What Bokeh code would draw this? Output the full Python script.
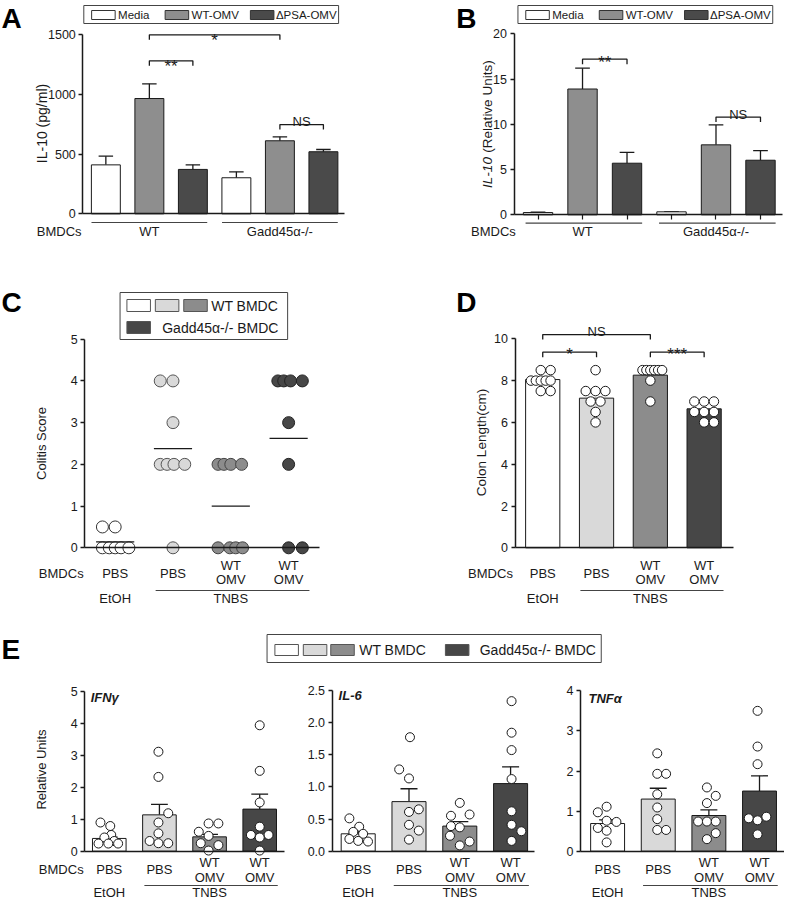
from bokeh.plotting import figure
from bokeh.models import Range1d, LinearAxis, FixedTicker, NumeralTickFormatter
from bokeh.layouts import row, column
from bokeh.embed import file_html
from bokeh.resources import INLINE
from bokeh.core.properties import value

# ------------------------------------------------------------------ data
TREATMENTS = ["Media", "WT-OMV", "ΔPSA-OMV"]
BMDC_TYPES = ["WT", "Gadd45α-/-"]
A_IL10_PG = [410, 966, 372, 302, 612, 520]
A_IL10_SEM = [73, 123, 38, 50, 33, 19]
A_TICKS = [0, 500, 1000, 1500]
B_IL10_RU = [0.25, 13.9, 5.7, 0.33, 7.73, 6.03]
B_IL10_SEM = [0.05, 2.3, 1.2, 0.03, 2.2, 1.07]
B_TICKS = [0, 5, 10, 15, 20]

CONDITIONS = ["PBS", "PBS", "WT OMV", "WT OMV"]
TREAT_GROUPS = ["EtOH", "TNBS"]
LEGEND_CE = ["WT BMDC", "Gadd45α-/- BMDC"]

C_SCORES = [
    [0.5, 0.5, 0, 0, 0, 0, 0],
    [4, 4, 3, 2, 2, 2, 2, 0],
    [2, 2, 2, 2, 0, 0, 0, 0],
    [4, 4, 4, 4, 3, 2, 0, 0],
]
C_TICKS = [0, 1, 2, 3, 4, 5]

D_LENGTH_MEAN = [8.05, 7.16, 8.26, 6.65]
D_LENGTHS = [
    [8.5, 8.5, 8.0, 8.0, 8.0, 8.0, 8.0, 7.5, 7.5],
    [8.5, 7.5, 7.5, 7.5, 7.0, 7.0, 6.5, 6.0],
    [8.5, 8.5, 8.5, 8.5, 8.5, 8.5, 8.0, 7.0],
    [7.0, 7.0, 7.0, 6.5, 6.5, 6.5, 6.0, 6.0],
]
D_TICKS = [0, 2, 4, 6, 8, 10]

E_GENES = ["IFNγ", "IL-6", "TNFα"]
E_IFNG_MEAN = [0.40, 1.14, 0.45, 1.32]
E_IFNG_SEM = [0.04, 0.33, 0.08, 0.47]
E_IFNG_PTS = [
    [0.90, 0.79, 0.51, 0.43, 0.32, 0.24, 0.24, 0.24],
    [3.12, 2.33, 1.19, 0.90, 0.56, 0.32, 0.25, 0.25],
    [0.87, 0.87, 0.61, 0.48, 0.25, 0.19, 0.02],
    [3.95, 2.52, 1.53, 0.77, 0.51, 0.51, 0.43, 0.02],
]
E_IFNG_TICKS = [0, 1, 2, 3, 4, 5]
E_IL6_MEAN = [0.27, 0.77, 0.39, 1.05]
E_IL6_SEM = [0.03, 0.20, 0.07, 0.26]
E_IL6_PTS = [
    [0.51, 0.38, 0.30, 0.27, 0.19, 0.16, 0.15],
    [1.77, 1.27, 1.13, 0.65, 0.61, 0.41, 0.32, 0.18],
    [0.75, 0.57, 0.55, 0.39, 0.37, 0.24, 0.15, 0.09],
    [2.33, 1.84, 1.57, 1.12, 0.62, 0.41, 0.31, 0.16],
]
E_IL6_TICKS = [0, 0.5, 1.0, 1.5, 2.0, 2.5]
E_TNFA_MEAN = [0.69, 1.30, 0.89, 1.50]
E_TNFA_SEM = [0.09, 0.27, 0.14, 0.38]
E_TNFA_PTS = [
    [1.11, 0.97, 0.76, 0.73, 0.58, 0.51, 0.22],
    [2.44, 1.93, 1.93, 1.42, 1.09, 0.80, 0.53, 0.53],
    [1.59, 1.38, 1.20, 0.74, 0.74, 0.74, 0.45, 0.30],
    [3.50, 2.61, 2.17, 0.86, 0.82, 0.77, 0.42],
]
E_TNFA_TICKS = [0, 1, 2, 3, 4]

# ------------------------------------------------------------ layout / style
# horizontal jitter of the dots, in pixels
C_JIT = [[-13, 0, -13, -6, 0, 6, 14], [-13, 0, 0, -13, -6, 1, 12, 0],
         [-13, -7, 0, 11, -13, -1, 5, 12], [-11, -5, 2, 14, 0, 0, 0, 14]]
D_JIT = [[-2, 8, -12, -7, -2, 3, 8, -2, 8], [-1, -11, -1, 9, -6, 4, -1, -1],
         [-8, -4, 0, 4, 8, 12, 0, 0], [-10, 0, 10, -10, 0, 10, 0, 10]]
E1_JIT = [[-9, 1, 2, -5, 5, -11, -1, 9], [-1, -1, 9, -1, -1, -10, -1, 9],
          [-1, 9, -11, -1, -9, 9, -1], [0, 0, 0, 0, -9, 9, 0, 0]]
E2_JIT = [[-9, 1, -5, 5, -9, 0, 10], [1, -10, 0, 10, 0, 0, 10, 0],
          [0, 10, -9, -9, 0, -10, 10, 0], [1, 1, 1, 1, 1, 1, 11, 1]]
E3_JIT = [[-1, -10, -1, 9, -10, -1, -1], [-1, -1, 8, -1, -1, -1, -1, 8],
          [-2, 7, -2, -11, -2, 7, 7, -2], [-2, -2, -2, 7, -11, -2, -2]]

FONT = "Liberation Sans"
INK = "#1a1a1a"
AB_FILL = ["#ffffff", "#8e8e8e", "#4a4a4a"]
CE_FILL = ["#ffffff", "#d9d9d9", "#8c8c8c", "#474747"]

KX = 784 / 800.0
# vertical reference->page mapping: empty bands between panel rows are squeezed
Y_KNOTS = [(0, 0), (240, 240), (290, 280), (615, 605), (645, 627), (917, 899)]


def PY(r):
    for (a0, b0), (a1, b1) in zip(Y_KNOTS[:-1], Y_KNOTS[1:]):
        if r <= a1 or (a1, b1) == Y_KNOTS[-1]:
            return b0 + (r - a0) * (b1 - b0) / (a1 - a0)


class Panel:
    """A figure whose frame covers a page rectangle; calibrations map data -> reference pixels."""

    def __init__(self, L, T, W, H, xcal, ycal):
        xd0, xr0, xd1, xr1 = xcal
        yd0, yr0, yd1, yr1 = ycal
        self.xd0, self.px0 = xd0, xr0 * KX
        self.sx = (xd1 - xd0) / (xr1 * KX - xr0 * KX)
        self.yd0, self.py0 = yd0, PY(yr0)
        self.sy = (yd1 - yd0) / (PY(yr1) - PY(yr0))
        xs = self.xd0 + (L - self.px0) * self.sx
        xe = self.xd0 + (L + W - self.px0) * self.sx
        ys = self.yd0 + (T + H - self.py0) * self.sy
        ye = self.yd0 + (T - self.py0) * self.sy
        self.fig = figure(width=W, height=H, x_range=Range1d(xs, xe), y_range=Range1d(ys, ye),
                          output_backend="svg", toolbar_location=None,
                          x_axis_type=None, y_axis_type=None, min_border=0,
                          outline_line_color=None)

    def X(self, r):
        return self.xd0 + (r * KX - self.px0) * self.sx

    def Y(self, r):
        return self.yd0 + (PY(r) - self.py0) * self.sy

    def DX(self, px):
        return px * KX * self.sx

    def DY(self, px):
        return -px * self.sy


def text(p, x, y, s, size="13px", align="center", baseline="middle", style="normal",
         angle=0.0, yoff=0, color=INK):
    p.text(x=[x], y=[y], text=[s], text_font=value(FONT), text_font_size=size,
           text_align=align, text_baseline=baseline, text_font_style=style,
           angle=angle, y_offset=yoff, text_color=color)


def yaxis(pn, xr, ticks, fmt=None, size="12.5px"):
    ax = LinearAxis(fixed_location=pn.X(xr), bounds=(ticks[0], ticks[-1]),
                    ticker=FixedTicker(ticks=ticks), axis_line_width=1.5, axis_line_color=INK,
                    major_tick_out=4, major_tick_in=0, major_tick_line_width=1.5,
                    major_tick_line_color=INK, minor_tick_line_color=None,
                    major_label_standoff=3, major_label_text_font=FONT,
                    major_label_text_font_size=size, major_label_text_color=INK)
    if fmt:
        ax.formatter = NumeralTickFormatter(format=fmt)
    pn.fig.add_layout(ax, "left")


def xbase(pn, x0r, x1r, ticks=None):
    ax = LinearAxis(fixed_location=0, bounds=(pn.X(x0r), pn.X(x1r)),
                    ticker=FixedTicker(ticks=ticks or []), axis_line_width=1.5,
                    axis_line_color=INK, major_tick_out=5 if ticks else 0, major_tick_in=0,
                    major_tick_line_width=1.2, major_tick_line_color=INK,
                    minor_tick_line_color=None, major_label_text_color=None)
    pn.fig.add_layout(ax, "below")


def bars(pn, means, sems, fills, width):
    xs = list(range(1, len(means) + 1))
    tops = [m + s for m, s in zip(means, sems)]
    half = width * 0.25
    pn.fig.segment(x0=xs, y0=means, x1=xs, y1=tops, line_color=INK, line_width=1.3)
    pn.fig.segment(x0=[x - half for x in xs], y0=tops, x1=[x + half for x in xs], y1=tops,
                   line_color=INK, line_width=1.3)
    pn.fig.vbar(x=xs, top=means, bottom=0, width=width, fill_color=fills,
                line_color=INK, line_width=1)


def dots(pn, groups, jit, size, fills, lines):
    for i, (vals, offs) in enumerate(zip(groups, jit)):
        xs = [i + 1 + pn.DX(o) for o in offs]
        pn.fig.scatter(x=xs, y=vals, size=size, marker="circle", fill_color=fills[i],
                       line_color=lines[i], line_width=1)


def bracket(pn, i, j, yv, label, toff, drop=5):
    d = pn.DY(drop)
    pn.fig.multi_line(xs=[[i, i, j, j]], ys=[[yv - d, yv, yv, yv - d]], line_color=INK,
                      line_width=1.3)
    size = "17px" if label.startswith("*") else "13px"
    text(pn.fig, (i + j) / 2.0, yv, label, size=size, baseline="alphabetic", yoff=toff)


def letter(pn, xr, yr, s):
    text(pn.fig, pn.X(xr), pn.Y(yr), s, size="28px", align="left", style="bold", color="#000")


def swatch(pn, l, r, t, b, fill, line="#555"):
    pn.fig.quad(left=[pn.X(l)], right=[pn.X(r)], top=[pn.Y(t)], bottom=[pn.Y(b)],
                fill_color=fill, line_color=line, line_width=1)


def ab_legend(pn, dx):
    swatch(pn, 85 + dx, 345 + dx, 5, 23, "#ffffff", "#444")
    for k, (sl, tl) in enumerate([(93, 120), (168, 195), (255, 281)]):
        swatch(pn, sl + dx, sl + 24 + dx, 10, 19, AB_FILL[k], "#333")
        text(pn.fig, pn.X(tl + dx), pn.Y(14.5), TREATMENTS[k], size="11.5px", align="left")


def cond_labels(pn, yr_single, yr_top, yr_bot, size="13px"):
    for k, lab in enumerate(CONDITIONS):
        parts = lab.split(" ")
        if len(parts) == 1:
            text(pn.fig, k + 1, pn.Y(yr_single), lab, size=size)
        else:
            text(pn.fig, k + 1, pn.Y(yr_top), parts[0], size=size)
            text(pn.fig, k + 1, pn.Y(yr_bot), parts[1], size=size)


def treat_labels(pn, yr_line, yr_text, size="13px"):
    pn.fig.segment(x0=[2 - 0.3], y0=[pn.Y(yr_line)], x1=[4 + 0.36], y1=[pn.Y(yr_line)],
                   line_color="#444", line_width=1.2)
    text(pn.fig, 1, pn.Y(yr_text), TREAT_GROUPS[0], size=size)
    text(pn.fig, 3, pn.Y(yr_text), TREAT_GROUPS[1], size=size)


# ------------------------------------------------------------------ panel A
A = Panel(0, 0, 392, 260, (1, 107.5, 6, 329.5), (0, 213.3, 1500, 34.3))
letter(A, 1, 18, "A")
ab_legend(A, 0)
yaxis(A, 84, A_TICKS)
bars(A, A_IL10_PG, A_IL10_SEM, AB_FILL * 2, 0.665)
xbase(A, 84, 351)
text(A.fig, A.X(42), A.Y(123), "IL-10 (pg/ml)", size="14px", angle=1.5708)
for g in range(2):
    A.fig.segment(x0=[3 * g + 1 - 0.33], y0=[A.Y(222)], x1=[3 * g + 3 + 0.33], y1=[A.Y(222)],
                  line_color="#444", line_width=1.2)
    text(A.fig, 3 * g + 2, A.Y(231), BMDC_TYPES[g])
text(A.fig, A.X(37), A.Y(231), "BMDCs", align="left")
bracket(A, 2, 5, 1500, "*", 6)
bracket(A, 2, 3, 1282, "**", 6)
bracket(A, 5, 6, 748, "NS", -3)

# ------------------------------------------------------------------ panel B
B = Panel(392, 0, 392, 260, (1, 548.5, 6, 775.5), (0, 214.3, 20, 33.3))
letter(B, 465, 18, "B")
ab_legend(B, 443)
yaxis(B, 524, B_TICKS)
bars(B, B_IL10_RU, B_IL10_SEM, AB_FILL * 2, 0.66)
xbase(B, 524, 798, ticks=[1, 2, 3, 4, 5, 6])
text(B.fig, B.X(497), B.Y(172), "IL-10", size="13.5px", angle=1.5708, style="italic")
text(B.fig, B.X(497), B.Y(106), "(Relative Units)", size="13.5px", angle=1.5708)
for g in range(2):
    B.fig.segment(x0=[3 * g + 1 - 0.28], y0=[B.Y(222.7)], x1=[3 * g + 3 + 0.34], y1=[B.Y(222.7)],
                  line_color="#444", line_width=1.2)
    text(B.fig, 3 * g + 2, B.Y(231), BMDC_TYPES[g])
text(B.fig, B.X(503), B.Y(231), "BMDCs")
bracket(B, 2, 3, 17.2, "**", 3)
bracket(B, 5, 6, 10.8, "NS", -3)

# ------------------------------------------------------------------ panel C
C = Panel(0, 260, 392, 356, (1, 117, 4, 294), (0, 557.3, 5, 348.7))
letter(C, 1, 312, "C")
swatch(C, 122, 293, 302, 349, "#ffffff", "#444")
for k, sl in enumerate([129, 158, 187]):
    swatch(C, sl, sl + 24, 309, 321, CE_FILL[k])
swatch(C, 129, 153, 331, 343, CE_FILL[3])
text(C.fig, C.X(215), C.Y(315), LEGEND_CE[0], size="14px", align="left")
text(C.fig, C.X(165), C.Y(337), LEGEND_CE[1], size="14px", align="left")
yaxis(C, 86, C_TICKS)
xbase(C, 86, 325)
text(C.fig, C.X(42), C.Y(453), "Colitis Score", size="13px", angle=1.5708)
dots(C, C_SCORES, C_JIT, 12, CE_FILL, ["#333", "#555", "#444", "#222"])
c_means = [sum(v) / len(v) for v in C_SCORES]
C.fig.segment(x0=[k + 1 - 0.33 for k in range(4)], y0=c_means,
              x1=[k + 1 + 0.33 for k in range(4)], y1=c_means, line_color=INK, line_width=1.2)
text(C.fig, C.X(62), C.Y(583), "BMDCs")
cond_labels(C, 583, 575, 589)
treat_labels(C, 600, 607.5)

# ------------------------------------------------------------------ panel D
D = Panel(392, 260, 392, 356, (1, 553.3, 4, 718), (0, 557.3, 10, 348.3))
letter(D, 465, 312, "D")
yaxis(D, 525, D_TICKS)
D.fig.vbar(x=[1, 2, 3, 4], top=D_LENGTH_MEAN, bottom=0, width=0.636, fill_color=CE_FILL,
           line_color=INK, line_width=1)
xbase(D, 525, 748)
dots(D, D_LENGTHS, D_JIT, 9.5, ["#ffffff"] * 4, [INK] * 4)
text(D.fig, D.X(491), D.Y(452), "Colon Length(cm)", size="13.5px", angle=1.5708)
text(D.fig, D.X(500), D.Y(583), "BMDCs")
cond_labels(D, 583, 575, 589)
treat_labels(D, 600, 607.5)
bracket(D, 1, 3, 10.2, "NS", -3)
bracket(D, 1, 2, 9.36, "*", 2)
bracket(D, 3, 4, 9.36, "***", 2)

# ------------------------------------------------------------------ legend E
EL = Panel(0, 616, 784, 56, (0, 0, 800, 800), (652, 652, 680, 680))
letter(EL, 1, 667, "E")
swatch(EL, 272, 613, 652, 680, "#ffffff", "#444")
for k, sl in enumerate([280, 309, 337]):
    swatch(EL, sl, sl + 24, 662, 673, CE_FILL[k])
swatch(EL, 454, 478, 662, 673, CE_FILL[3])
text(EL.fig, 366, EL.Y(667), LEGEND_CE[0], size="14px", align="left")
text(EL.fig, 489, EL.Y(667), LEGEND_CE[1], size="14px", align="left")

# ------------------------------------------------------------------ panels E
E1 = Panel(0, 672, 294, 229, (1, 111, 4, 264.5), (0, 868.7, 5, 709.3))
E2 = Panel(294, 672, 255, 229, (1, 365, 4, 520.5), (0, 868.7, 2.5, 707.7))
E3 = Panel(549, 672, 235, 229, (1, 619.5, 4, 774.5), (0, 868.7, 4, 708.3))
E_SPECS = [
    (E1, 86, 290, E_IFNG_TICKS, None, E_IFNG_MEAN, E_IFNG_SEM, E_IFNG_PTS, E1_JIT, 92, 715),
    (E2, 338.3, 545, E_IL6_TICKS, "0.0", E_IL6_MEAN, E_IL6_SEM, E_IL6_PTS, E2_JIT, 345, 713),
    (E3, 591.7, 800, E_TNFA_TICKS, None, E_TNFA_MEAN, E_TNFA_SEM, E_TNFA_PTS, E3_JIT, 600, 716),
]
for gi, (pn, axr, endr, ticks, fmt, mean, sem, pts, jit, gx, gy) in enumerate(E_SPECS):
    yaxis(pn, axr, ticks, fmt=fmt)
    bars(pn, mean, sem, CE_FILL, 0.67)
    xbase(pn, axr, endr)
    dots(pn, pts, jit, 9, ["#ffffff"] * 4, [INK] * 4)
    text(pn.fig, pn.X(gx), pn.Y(gy), E_GENES[gi], size="13px", align="left", style="bold italic")
    cond_labels(pn, 887, 880, 895)
    treat_labels(pn, 903, 910)
text(E1.fig, E1.X(42), E1.Y(787), "Relative Units", size="13px", angle=1.5708)
text(E1.fig, E1.X(62), E1.Y(887), "BMDCs")

layout = column(row(A.fig, B.fig), row(C.fig, D.fig), EL.fig, row(E1.fig, E2.fig, E3.fig))
open("out.html", "w").write(file_html(layout, INLINE))
